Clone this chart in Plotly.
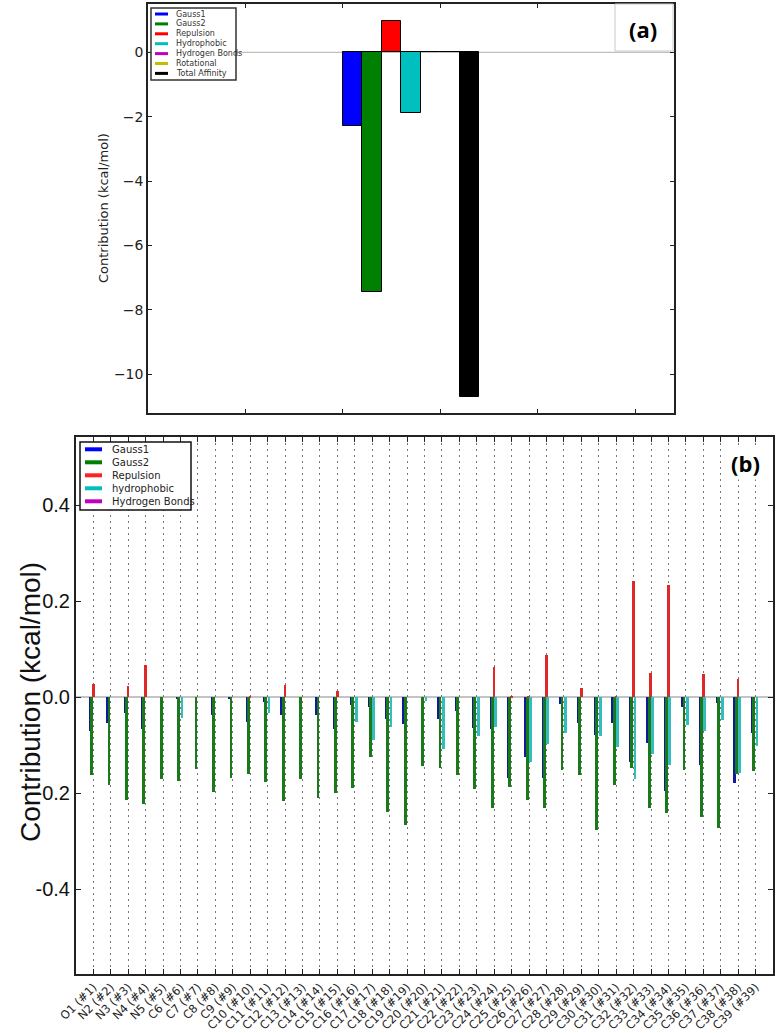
import plotly.graph_objects as go

# ---------------- data: panel (a) ----------------
terms_a = ["Gauss1", "Gauss2", "Repulsion", "Hydrophobic", "Hydrogen Bonds", "Rotational", "Total Affinity"]
values_a = [-2.29, -7.43, 0.97, -1.87, 0.0, 0.0, -10.69]
colors_a = ["#0000ff", "#008000", "#ff0000", "#00bfbf", "#bf00bf", "#bfbf00", "#000000"]

# ---------------- data: panel (b) ----------------
atom_labels = ["O1 (#1)", "N2 (#2)", "N3 (#3)", "N4 (#4)", "N5 (#5)", "C6 (#6)", "C7 (#7)",
               "C8 (#8)", "C9 (#9)", "C10 (#10)", "C11 (#11)", "C12 (#12)", "C13 (#13)",
               "C14 (#14)", "C15 (#15)", "C16 (#16)", "C17 (#17)", "C18 (#18)", "C19 (#19)",
               "C20 (#20)", "C21 (#21)", "C22 (#22)", "C23 (#23)", "C24 (#24)", "C25 (#25)",
               "C26 (#26)", "C27 (#27)", "C28 (#28)", "C29 (#29)", "C30 (#30)", "C31 (#31)",
               "C32 (#32)", "C33 (#33)", "C34 (#34)", "C35 (#35)", "C36 (#36)", "C37 (#37)",
               "C38 (#38)", "C39 (#39)"]
gauss1 = [-0.070, -0.054, -0.034, -0.066, 0.000, -0.004, 0.000, -0.037, -0.002, -0.051,
          -0.011, -0.037, 0.000, -0.037, -0.067, -0.016, -0.020, -0.046, -0.057, 0.000,
          -0.046, -0.028, -0.065, -0.066, -0.169, -0.125, -0.168, -0.014, -0.053, -0.078,
          -0.053, -0.135, -0.096, -0.195, -0.021, -0.142, -0.013, -0.180, -0.074]
gauss2 = [-0.163, -0.184, -0.215, -0.222, -0.170, -0.174, -0.149, -0.197, -0.168, -0.161,
          -0.176, -0.217, -0.171, -0.211, -0.199, -0.190, -0.125, -0.239, -0.267, -0.144,
          -0.147, -0.162, -0.192, -0.232, -0.187, -0.215, -0.232, -0.151, -0.162, -0.276,
          -0.183, -0.147, -0.232, -0.242, -0.152, -0.249, -0.273, -0.160, -0.154]
repulsion = [0.027, 0.000, 0.023, 0.066, 0.000, 0.000, 0.000, 0.000, 0.000, 0.003,
             0.000, 0.025, 0.000, 0.000, 0.013, 0.000, 0.000, 0.000, 0.000, 0.000,
             0.000, 0.000, 0.000, 0.062, 0.002, 0.002, 0.087, 0.000, 0.019, 0.000,
             0.003, 0.241, 0.051, 0.233, 0.000, 0.048, 0.000, 0.038, 0.000]
hydrophobic = [0.000, 0.000, 0.000, 0.000, 0.000, -0.044, 0.000, 0.000, 0.000, 0.000,
               -0.033, 0.000, 0.000, 0.000, 0.000, -0.051, -0.089, -0.063, 0.000, -0.009,
               -0.108, 0.000, -0.081, -0.063, 0.000, -0.135, -0.098, -0.074, 0.000, -0.081,
               -0.104, -0.171, -0.118, -0.141, -0.058, -0.070, -0.048, -0.159, -0.101]
hbonds = [0.0] * 39
series_b_names = ["Gauss1", "Gauss2", "Repulsion", "hydrophobic", "Hydrogen Bonds"]
series_b = [gauss1, gauss2, repulsion, hydrophobic, hbonds]
colors_b = ["#101a9c", "#1a7a1a", "#e02828", "#33bdbd", "#bf00bf"]
legend_colors_b = ["#0000ff", "#008000", "#ff2020", "#00bfbf", "#bf00bf"]

W, H = 780, 1033


def X(px):
    return px / W


def Y(py):
    return 1 - py / H


fig = go.Figure()

# ---------------- panel (a) bars ----------------
for k, (name, val, col) in enumerate(zip(terms_a, values_a, colors_a)):
    fig.add_trace(go.Bar(
        x=[2 + 0.2 * k], y=[val], width=[0.2], offset=0,
        marker=dict(color=col, line=dict(color="black", width=1)),
        name=name, showlegend=False, xaxis="x", yaxis="y"))

# ---------------- panel (b) bars ----------------
idx = list(range(1, len(atom_labels) + 1))
offsets_b = [-0.27, -0.19, -0.09, 0.0, 0.08]
for name, vals, col, off in zip(series_b_names, series_b, colors_b, offsets_b):
    fig.add_trace(go.Bar(
        x=idx, y=vals, width=0.16, offset=off,
        marker=dict(color=col, line=dict(width=0)),
        name=name, showlegend=False, xaxis="x2", yaxis="y2"))

axis_common = dict(showline=True, mirror="ticks", ticks="inside", linecolor="#222",
                   tickcolor="#222", zeroline=False, automargin=False)

fig.update_layout(
    width=W, height=H, margin=dict(l=0, r=0, t=0, b=0),
    paper_bgcolor="white", plot_bgcolor="white", barmode="overlay", bargap=0,
    showlegend=False,
    font=dict(family="DejaVu Sans", color="#222"),
    xaxis=dict(domain=[X(148), X(674)], range=[0, 5.4], tickvals=[1, 2, 3, 4, 5],
               showticklabels=False, ticklen=4, linewidth=1.5, showgrid=False,
               anchor="y", **axis_common),
    yaxis=dict(domain=[Y(413), Y(4)], range=[-11.2, 1.5],
               tickvals=[0, -2, -4, -6, -8, -10],
               ticktext=["0", "\u22122", "\u22124", "\u22126", "\u22128", "\u221210"],
               tickfont=dict(size=14, family="DejaVu Sans", color="#222"),
               ticklen=4, linewidth=1.5, showgrid=False, anchor="x", **axis_common),
    xaxis2=dict(domain=[X(76), X(773)], range=[0, 40], tickvals=idx, ticktext=atom_labels,
                tickangle=-45, tickfont=dict(size=11.5, family="DejaVu Sans", color="#222"),
                ticklen=5, linewidth=2, showgrid=True, gridcolor="#777", griddash="2px,4px",
                gridwidth=1, anchor="y2", **axis_common),
    yaxis2=dict(domain=[Y(974), Y(437)], range=[-0.577, 0.542],
                tickvals=[0.4, 0.2, 0.0, -0.2, -0.4],
                ticktext=["0.4", "0.2", "0.0", "-0.2", "-0.4"],
                tickfont=dict(size=20, family="Liberation Sans", color="#111"),
                ticklen=5, linewidth=2, showgrid=False, anchor="x2", **axis_common),
)

# zero lines (axhline)
fig.add_hline(y=0, line=dict(color="#b0b0b0", width=1), xref="x", yref="y", layer="below")
fig.add_shape(type="line", xref="x2 domain", yref="y2", x0=0, x1=1, y0=0, y1=0,
              line=dict(color="#b0b0b0", width=1.5), layer="below")

shapes = []
annotations = []

# legend (a)
shapes.append(dict(type="rect", xref="paper", yref="paper", x0=X(151), x1=X(236),
                   y0=Y(80), y1=Y(8), line=dict(color="#333", width=1.5), fillcolor="white"))
for k, (name, col) in enumerate(zip(terms_a, colors_a)):
    yy = 14 + 9.9 * k
    shapes.append(dict(type="line", xref="paper", yref="paper", x0=X(155), x1=X(168),
                       y0=Y(yy), y1=Y(yy), line=dict(color=col, width=3)))
    annotations.append(dict(xref="paper", yref="paper", x=X(174), y=Y(yy), text=name,
                            showarrow=False, xanchor="left", yanchor="middle",
                            font=dict(size=8, family="DejaVu Sans", color="#333")))

# legend (b)
shapes.append(dict(type="rect", xref="paper", yref="paper", x0=X(80), x1=X(191),
                   y0=Y(510), y1=Y(442), line=dict(color="#111", width=1.5), fillcolor="white"))
for k, (name, col) in enumerate(zip(series_b_names, legend_colors_b)):
    yy = 449.3 + 13 * k
    shapes.append(dict(type="line", xref="paper", yref="paper", x0=X(85), x1=X(102),
                       y0=Y(yy), y1=Y(yy), line=dict(color=col, width=4)))
    annotations.append(dict(xref="paper", yref="paper", x=X(110), y=Y(yy), text=name,
                            showarrow=False, xanchor="left", yanchor="middle",
                            font=dict(size=10, family="DejaVu Sans", color="#222")))

# (a) label box
shapes.append(dict(type="rect", xref="paper", yref="paper", x0=X(615), x1=X(673),
                   y0=Y(51), y1=Y(4), line=dict(color="#c8c8c8", width=1), fillcolor="white"))
annotations.append(dict(xref="paper", yref="paper", x=X(643), y=Y(29), text="<b>(a)</b>",
                        showarrow=False, xanchor="center", yanchor="middle",
                        font=dict(size=22, family="Open Sans", color="black")))
annotations.append(dict(xref="paper", yref="paper", x=X(745), y=Y(463), text="<b>(b)</b>",
                        showarrow=False, xanchor="center", yanchor="middle", bgcolor="white",
                        font=dict(size=22, family="Open Sans", color="black")))

# y-axis titles
annotations.append(dict(xref="paper", yref="paper", x=X(103), y=Y(208),
                        text="Contribution (kcal/mol)", textangle=-90, showarrow=False,
                        xanchor="center", yanchor="middle",
                        font=dict(size=13, family="DejaVu Sans", color="#222")))
annotations.append(dict(xref="paper", yref="paper", x=X(30), y=Y(702),
                        text="Contribution (kcal/mol)", textangle=-90, showarrow=False,
                        xanchor="center", yanchor="middle",
                        font=dict(size=28, family="Liberation Sans", color="#111")))

for s in shapes:
    fig.add_shape(**s)
for a in annotations:
    fig.add_annotation(**a)

fig.write_html("out.html", config={"displayModeBar": False},
               post_script="document.body.style.margin='0';")
